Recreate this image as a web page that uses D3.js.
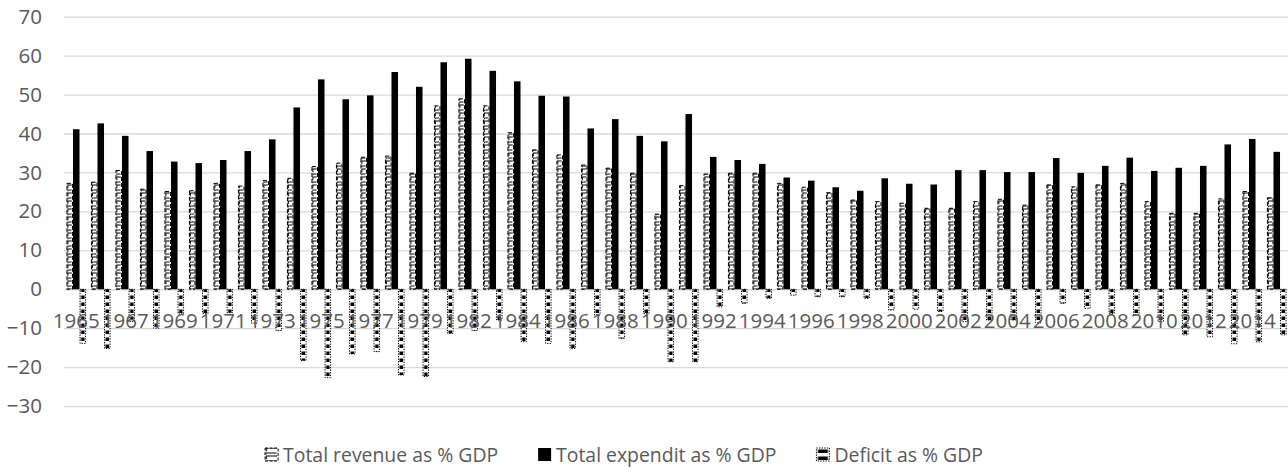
<!DOCTYPE html>
<html>
<head>
<meta charset="utf-8">
<script src="https://cdn.jsdelivr.net/npm/d3@7"></script>
<style>
  body { margin: 0; background: #fff; }
  svg text { font-family: "Open Sans", sans-serif; }
</style>
</head>
<body>
<svg id="chart" width="1288" height="474"></svg>
<script>
// categories (1981 is absent from the source series)
const years = ["1965","1966","1967","1968","1969","1970","1971","1972","1973","1974",
  "1975","1976","1977","1978","1979","1980","1982","1983","1984","1985",
  "1986","1987","1988","1989","1990","1991","1992","1993","1994","1995",
  "1996","1997","1998","1999","2000","2001","2002","2003","2004","2005",
  "2006","2007","2008","2009","2010","2011","2012","2013","2014","2015"];

const revenue = [27.2,27.5,30.5,25.7,25.1,25.3,27.2,26.5,27.9,28.5,
  31.5,32.4,33.9,34.2,29.8,47.1,48.9,47.1,40.2,35.8,
  34.5,31.9,31.1,29.8,19.3,26.6,29.6,29.8,29.8,27.2,
  26.2,24.8,22.9,22.5,22.1,20.8,20.8,22.5,23.1,21.6,
  26.8,26.3,26.8,27.2,22.5,19.5,19.5,23.2,25.1,23.5];

const expenditure = [41.1,42.6,39.4,35.5,32.8,32.4,33.2,35.5,38.5,46.7,
  53.9,48.8,49.8,55.8,52.0,58.3,59.2,56.1,53.4,49.7,
  49.5,41.3,43.7,39.4,38.0,45.0,34.0,33.2,32.2,28.7,
  27.9,26.2,25.3,28.5,27.1,26.9,30.6,30.6,30.1,30.1,
  33.7,29.9,31.7,33.8,30.4,31.2,31.7,37.2,38.6,35.3];

const deficit = [-13.9,-15.2,-8.3,-10.0,-6.3,-6.2,-6.0,-8.7,-10.6,-18.3,
  -22.7,-16.6,-16.0,-22.0,-22.4,-11.3,-10.6,-7.9,-13.4,-13.9,
  -15.2,-6.6,-12.6,-6.2,-18.6,-18.6,-4.5,-3.6,-2.3,-1.5,
  -1.9,-1.9,-2.3,-5.3,-5.1,-5.7,-8.3,-7.9,-7.9,-8.6,
  -3.6,-4.9,-6.2,-6.6,-8.3,-11.7,-12.2,-14.0,-13.5,-11.7];

const seriesNames = ["Total revenue as % GDP", "Total expendit as % GDP", "Deficit as % GDP"];
const yTicks = [-30, -20, -10, 0, 10, 20, 30, 40, 50, 60, 70];

const svg = d3.select("#chart");
const plotLeft = 64, plotRight = 1289, plotTop = 16.7, plotBottom = 406.1;
const textColor = "#595959";
const gridColor = "#d9d9d9";

const x = d3.scaleBand()
    .domain(years)
    .range([plotLeft, plotRight])
    .paddingInner(0.2)
    .paddingOuter(0.1);

const xs = d3.scaleBand()
    .domain(["rev", "exp", "def"])
    .range([0, x.bandwidth()]);

const y = d3.scaleLinear()
    .domain([-30, 70])
    .range([plotBottom, plotTop]);

const rows = years.map((yr, i) => ({year: yr, rev: revenue[i], exp: expenditure[i], def: deficit[i]}));

const defs = svg.append("defs");
const bw = xs.bandwidth();

// pattern tiles; x is local to whatever group the bar sits in
function revPattern(id, x0, w) {
    const p = defs.append("pattern")
        .attr("id", id)
        .attr("patternUnits", "userSpaceOnUse")
        .attr("x", x0).attr("y", 0)
        .attr("width", 40).attr("height", 8);
    p.append("rect").attr("width", 40).attr("height", 8).attr("fill", "#fff");
    p.append("path")
        .attr("d", `M${w - 1},1 H1.3 V4.2 M1.3,5.5 V7.2 M2.2,6 H${w - 1.4}`)
        .attr("fill", "none")
        .attr("stroke", "#000")
        .attr("stroke-width", 1.1);
}
function defPattern(id, x0, w) {
    const p = defs.append("pattern")
        .attr("id", id)
        .attr("patternUnits", "userSpaceOnUse")
        .attr("x", x0).attr("y", 0)
        .attr("width", 40).attr("height", 7);
    p.append("rect").attr("width", 40).attr("height", 7).attr("fill", "#fff");
    p.append("rect")
        .attr("x", 1.5).attr("y", 1.5)
        .attr("width", w - 3).attr("height", 3.5)
        .attr("fill", "#000");
}
revPattern("revPat", xs("rev"), bw);
defPattern("defPat", xs("def"), bw);
revPattern("revLeg", 0, 13);
defPattern("defLeg", 0, 13);

// y axis with gridlines
const yAxis = svg.append("g")
    .attr("transform", `translate(${plotLeft},0)`)
    .attr("color", textColor)
    .call(d3.axisLeft(y).tickValues(yTicks).tickSize(-(plotRight - plotLeft)).tickPadding(22));
yAxis.select(".domain").remove();
yAxis.selectAll(".tick line").attr("stroke", gridColor).attr("stroke-width", 1.3);
yAxis.selectAll(".tick text").attr("font-size", 20.5).attr("fill", textColor);

// bars
const groups = svg.append("g")
    .selectAll("g")
    .data(rows)
    .join("g")
    .attr("transform", d => `translate(${x(d.year)},0)`);

groups.append("rect")
    .attr("x", xs("rev") + 0.5)
    .attr("y", d => y(Math.max(0, d.rev)))
    .attr("width", bw - 1)
    .attr("height", d => Math.abs(y(d.rev) - y(0)))
    .attr("fill", "url(#revPat)")
    .attr("stroke", "#000")
    .attr("stroke-width", 1)
    .attr("stroke-dasharray", "4,2");

groups.append("rect")
    .attr("x", xs("exp"))
    .attr("y", d => y(Math.max(0, d.exp)))
    .attr("width", bw)
    .attr("height", d => Math.abs(y(d.exp) - y(0)))
    .attr("fill", "#000");

groups.append("rect")
    .attr("x", xs("def") + 0.5)
    .attr("y", d => y(Math.max(0, d.def)))
    .attr("width", bw - 1)
    .attr("height", d => Math.abs(y(d.def) - y(0)))
    .attr("fill", "url(#defPat)")
    .attr("stroke", "#000")
    .attr("stroke-width", 1)
    .attr("stroke-dasharray", "1.3,1.3");

// x axis labels (every other category shown)
const xAxis = svg.append("g")
    .attr("transform", `translate(0,${y(0)})`)
    .attr("color", textColor)
    .call(d3.axisBottom(x)
        .tickValues(years.filter((d, i) => i % 2 === 0))
        .tickSize(0)
        .tickPadding(24));
xAxis.select(".domain").remove();
xAxis.selectAll(".tick text").attr("font-size", 20.5).attr("fill", textColor);

// legend
const legend = svg.append("g").attr("class", "legend");
const items = legend.selectAll("g")
    .data(seriesNames)
    .join("g");
items.append("rect")
    .attr("width", 13).attr("height", 13)
    .attr("y", -7)
    .attr("fill", (d, i) => ["url(#revLeg)", "#000", "url(#defLeg)"][i])
    .attr("stroke", (d, i) => i === 1 ? "none" : "#000")
    .attr("stroke-dasharray", (d, i) => i === 0 ? "3,1.5" : "1.3,1.3");
items.append("text")
    .attr("x", 18)
    .attr("dy", "0.35em")
    .attr("font-size", 19.4)
    .attr("fill", textColor)
    .text(d => d);

let cursor = 0;
items.each(function() {
    const w = this.querySelector("text").getComputedTextLength();
    d3.select(this).attr("transform", `translate(${cursor},0)`);
    cursor += 18 + w + 40;
});
const total = cursor - 40;
legend.attr("transform", `translate(${624 - total / 2},455)`);
</script>
</body>
</html>
